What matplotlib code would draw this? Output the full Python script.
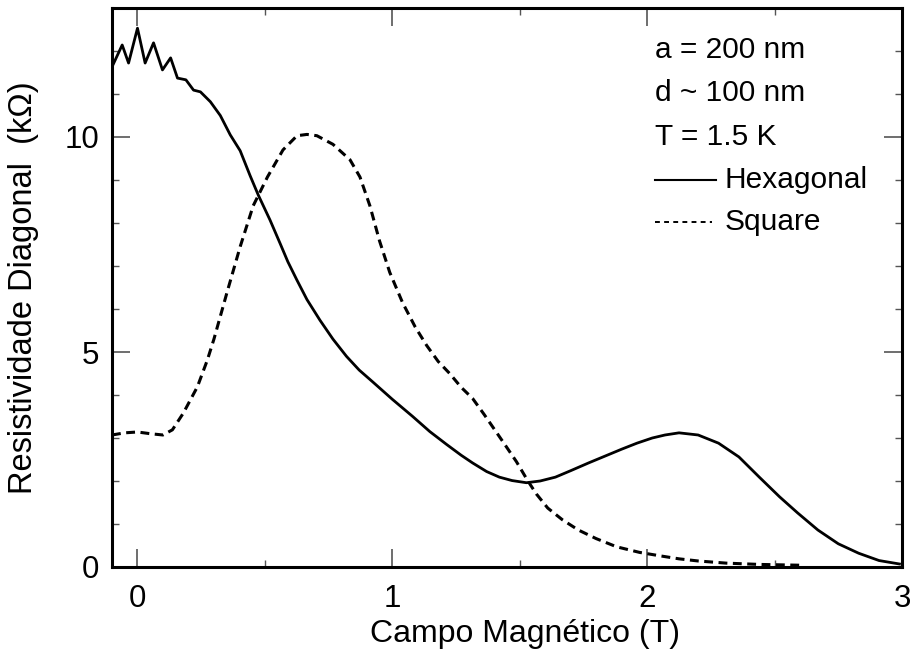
import matplotlib
matplotlib.use("Agg")
import matplotlib.pyplot as plt
from matplotlib.ticker import MultipleLocator

plt.rcParams['font.family'] = ['Liberation Sans', 'DejaVu Sans']

# Hexagonal (solid)
hex_x = [-0.10, -0.06, -0.035, 0.0, 0.03, 0.063, 0.098, 0.13, 0.157, 0.19, 0.22, 0.247,
         0.286, 0.325, 0.364, 0.403, 0.442, 0.474, 0.52, 0.56, 0.59, 0.625, 0.665, 0.716,
         0.767, 0.82, 0.87, 0.924, 1.0, 1.08, 1.147, 1.213, 1.27, 1.315, 1.37, 1.42, 1.47,
         1.526, 1.58, 1.64, 1.70, 1.77, 1.835, 1.90, 1.96, 2.02, 2.07, 2.125, 2.20, 2.28,
         2.36, 2.44, 2.52, 2.59, 2.67, 2.75, 2.83, 2.91, 2.99]
hex_y = [11.63, 12.14, 11.72, 12.53, 11.72, 12.19, 11.56, 11.84, 11.37, 11.33, 11.09, 11.05,
         10.82, 10.50, 10.05, 9.68, 9.10, 8.65, 8.07, 7.52, 7.10, 6.68, 6.22, 5.74,
         5.30, 4.90, 4.58, 4.30, 3.90, 3.50, 3.15, 2.85, 2.60, 2.42, 2.22, 2.09, 2.01,
         1.96, 2.00, 2.09, 2.24, 2.42, 2.58, 2.74, 2.88, 3.00, 3.07, 3.12, 3.07, 2.88,
         2.56, 2.09, 1.63, 1.26, 0.86, 0.54, 0.32, 0.15, 0.07]

# Square (dashed)
sq_x = [-0.10, -0.05, 0.0, 0.05, 0.10, 0.137, 0.18, 0.235, 0.274, 0.30, 0.352, 0.403,
        0.454, 0.51, 0.571, 0.626, 0.665, 0.704, 0.767, 0.834, 0.873, 0.912, 0.95, 0.99,
        1.04, 1.09, 1.135, 1.18, 1.225, 1.27, 1.315, 1.36, 1.41, 1.447, 1.487, 1.53,
        1.565, 1.61, 1.667, 1.73, 1.80, 1.88, 1.97, 2.05, 2.125, 2.20, 2.31, 2.44, 2.61]
sq_y = [3.07, 3.12, 3.14, 3.10, 3.07, 3.19, 3.58, 4.19, 4.81, 5.30, 6.40, 7.45,
        8.40, 9.07, 9.70, 10.03, 10.06, 10.03, 9.83, 9.47, 9.07, 8.40, 7.58, 6.85,
        6.15, 5.58, 5.15, 4.78, 4.50, 4.18, 3.92, 3.55, 3.12, 2.80, 2.45, 2.02,
        1.70, 1.37, 1.10, 0.86, 0.66, 0.47, 0.34, 0.26, 0.19, 0.14, 0.09, 0.06, 0.04]

info_lines = ["a = 200 nm", "d ~ 100 nm", "T = 1.5 K"]
series_labels = ["Hexagonal", "Square"]

fig = plt.figure(figsize=(9.12, 6.53), dpi=100)
ax = fig.add_axes([112/912, 1-567/653, 790/912, 559/653])

ax.plot(hex_x, hex_y, color='black', lw=2.0, solid_joinstyle='round')
ax.plot(sq_x, sq_y, color='black', lw=2.2, dashes=(2.9, 1.8))

ax.set_xlim(-0.1, 3.0)
ax.set_ylim(0, 13)
ax.xaxis.set_major_locator(MultipleLocator(1))
ax.xaxis.set_minor_locator(MultipleLocator(0.5))
ax.yaxis.set_major_locator(MultipleLocator(5))
ax.yaxis.set_minor_locator(MultipleLocator(1))
ax.tick_params(which='both', direction='in', top=True, right=True, color='#555555')
ax.tick_params(which='major', length=13, width=1.2, labelsize=22.5)
ax.tick_params(which='minor', length=5, width=1.0)
ax.tick_params(axis='x', which='major', pad=12)
ax.tick_params(axis='y', which='major', pad=9)
for s in ax.spines.values():
    s.set_linewidth(2.2)

ax.set_xlabel("Campo Magnético (T)", fontsize=23)
ax.set_ylabel("Resistividade Diagonal  (kΩ)", fontsize=23.5)
ax.xaxis.set_label_coords((525-112)/790, (567-619)/559)
ax.yaxis.set_label_coords((39-112)/790, 0.5)

# annotation block
tx = (655-112)/790
rows = [(567-50)/559, (567-93)/559, (567-137)/559, (567-180)/559, (567-222)/559]
for t, yy in zip(info_lines, rows[:3]):
    ax.text(tx, yy, t, transform=ax.transAxes, fontsize=21.5, va='center', ha='left')
ax.plot([tx, (716-112)/790], [rows[3], rows[3]], transform=ax.transAxes, color='black', lw=1.5)
ax.plot([tx, (712-112)/790], [rows[4], rows[4]], transform=ax.transAxes, color='black',
        lw=1.4, dashes=(2.5, 2.2))
ax.text((725-112)/790, rows[3], series_labels[0], transform=ax.transAxes, fontsize=21.5,
        va='center', ha='left')
ax.text((725-112)/790, rows[4], series_labels[1], transform=ax.transAxes, fontsize=21.5,
        va='center', ha='left')

fig.savefig("out.png", dpi=100)
